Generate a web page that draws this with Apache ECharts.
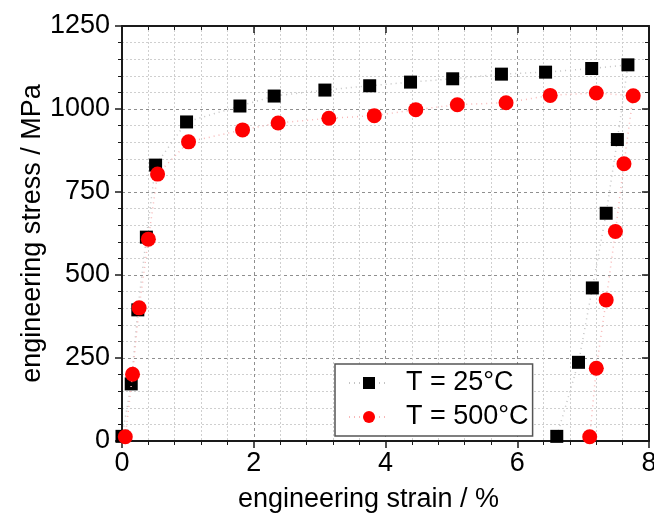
<!DOCTYPE html>
<html>
<head>
<meta charset="utf-8">
<script src="https://cdn.jsdelivr.net/npm/echarts@6/dist/echarts.min.js"></script>
<style>
  html, body { margin: 0; padding: 0; background: #fff; }
  #chart { width: 654px; height: 518px; }
</style>
</head>
<body>
<div id="chart"></div>
<script>
/* Tensile curves at 25 and 500 degC. */
const strain25 = [0.0, 0.14, 0.24, 0.37, 0.51, 0.98, 1.79, 2.31, 3.08, 3.76, 4.38, 5.02, 5.76, 6.43, 7.13, 7.68, 7.52, 7.35, 7.14, 6.93, 6.60];
const stress25 = [14, 172, 395, 614, 831, 961, 1009, 1039, 1057, 1070, 1081, 1091, 1105, 1111, 1122, 1133, 908, 686, 461, 237, 14];
const strain500 = [0.05, 0.16, 0.26, 0.40, 0.54, 1.01, 1.83, 2.37, 3.14, 3.83, 4.46, 5.09, 5.83, 6.50, 7.20, 7.76, 7.62, 7.49, 7.35, 7.20, 7.10];
const stress500 = [13, 201, 401, 608, 804, 901, 937, 958, 972, 980, 998, 1013, 1019, 1041, 1048, 1040, 835, 631, 425, 219, 13];
const seriesNames = ["T = 25°C", "T = 500°C"];
const xTicks = [0, 2, 4, 6, 8];
const yTicks = [0, 250, 500, 750, 1000, 1250];

(function () {
  "use strict";
  const el = document.getElementById("chart");
  const chart = echarts.init(el, null, { renderer: "canvas" });
  const font = "'Liberation Sans', Arial, sans-serif";
  const ink = "#1a1a1a";

  function pairs(xs, ys) {
    return xs.map(function (x, i) { return [x, ys[i]]; });
  }

  const majorGrid = { show: true, lineStyle: { color: "#8f8f8f", type: [3, 3], width: 1 } };
  const minorGrid = { show: true, lineStyle: { color: "#cfcfcf", type: [2, 2], width: 1 } };
  const axisLine = { show: true, onZero: false, lineStyle: { color: ink, width: 2 } };
  const plain = function (v) { return String(v); };

  function baseX(pos, labels) {
    return {
      type: "value", position: pos,
      min: xTicks[0], max: xTicks[xTicks.length - 1], interval: 2,
      axisLine: axisLine,
      axisTick: { show: true, inside: pos === "top", length: 7, lineStyle: { color: ink, width: 1.5 } },
      minorTick: { show: true, splitNumber: 5, length: 4, lineStyle: { color: ink, width: 1 } },
      axisLabel: labels ? { show: true, color: "#000", fontFamily: font, fontSize: 27, margin: 9, formatter: plain } : { show: false },
      splitLine: labels ? majorGrid : { show: false },
      minorSplitLine: labels ? minorGrid : { show: false },
    };
  }
  function baseY(pos, labels) {
    return {
      type: "value", position: pos,
      min: yTicks[0], max: yTicks[yTicks.length - 1], interval: 250,
      axisLine: axisLine,
      axisTick: { show: true, inside: pos === "right", length: 7, lineStyle: { color: ink, width: 1.5 } },
      minorTick: { show: true, splitNumber: 5, length: 4, lineStyle: { color: ink, width: 1 } },
      axisLabel: labels ? { show: true, color: "#000", fontFamily: font, fontSize: 27, margin: 12, formatter: plain } : { show: false },
      splitLine: labels ? majorGrid : { show: false },
      minorSplitLine: labels ? minorGrid : { show: false },
    };
  }

  const xBottom = baseX("bottom", true);
  xBottom.name = "engineering strain / %";
  xBottom.nameLocation = "middle";
  xBottom.nameGap = 45;
  xBottom.nameMoveOverlap = false;
  xBottom.nameTextStyle = { color: "#000", fontFamily: font, fontSize: 27, padding: [0, 34, 0, 0] };

  const yLeft = baseY("left", true);
  yLeft.name = "engineering stress / MPa";
  yLeft.nameLocation = "middle";
  yLeft.nameGap = 76;
  yLeft.nameMoveOverlap = false;
  yLeft.nameTextStyle = { color: "#000", fontFamily: font, fontSize: 27 };

  chart.setOption({
    animation: false,
    backgroundColor: "#fff",
    grid: { left: 122, right: 5, top: 26, bottom: 77, containLabel: false, outerBoundsMode: "none" },
    legend: {
      left: 335, top: 364, orient: "vertical",
      data: seriesNames,
      itemWidth: 40, itemHeight: 15, itemGap: 4,
      padding: [4, 4, 4, 13],
      borderColor: "#555", borderWidth: 1.5, backgroundColor: "#fff",
      textStyle: { color: "#000", fontFamily: font, fontSize: 27, lineHeight: 30, padding: [0, 0, 0, 12] },
    },
    xAxis: [xBottom, baseX("top", false)],
    yAxis: [yLeft, baseY("right", false)],
    series: [
      {
        name: seriesNames[0], type: "line", data: pairs(strain25, stress25),
        symbol: "rect", symbolSize: 13, showSymbol: true,
        itemStyle: { color: "#000" },
        lineStyle: { color: "#c4c4c4", width: 1.5, type: [1, 4] },
        z: 2,
      },
      {
        name: seriesNames[1], type: "line", data: pairs(strain500, stress500),
        symbol: "circle", symbolSize: 15, showSymbol: true,
        itemStyle: { color: "#ff0000" },
        lineStyle: { color: "#f7b8b8", width: 1.5, type: [1, 4] },
        z: 3,
      },
    ],
  });
})();
</script>
</body>
</html>
